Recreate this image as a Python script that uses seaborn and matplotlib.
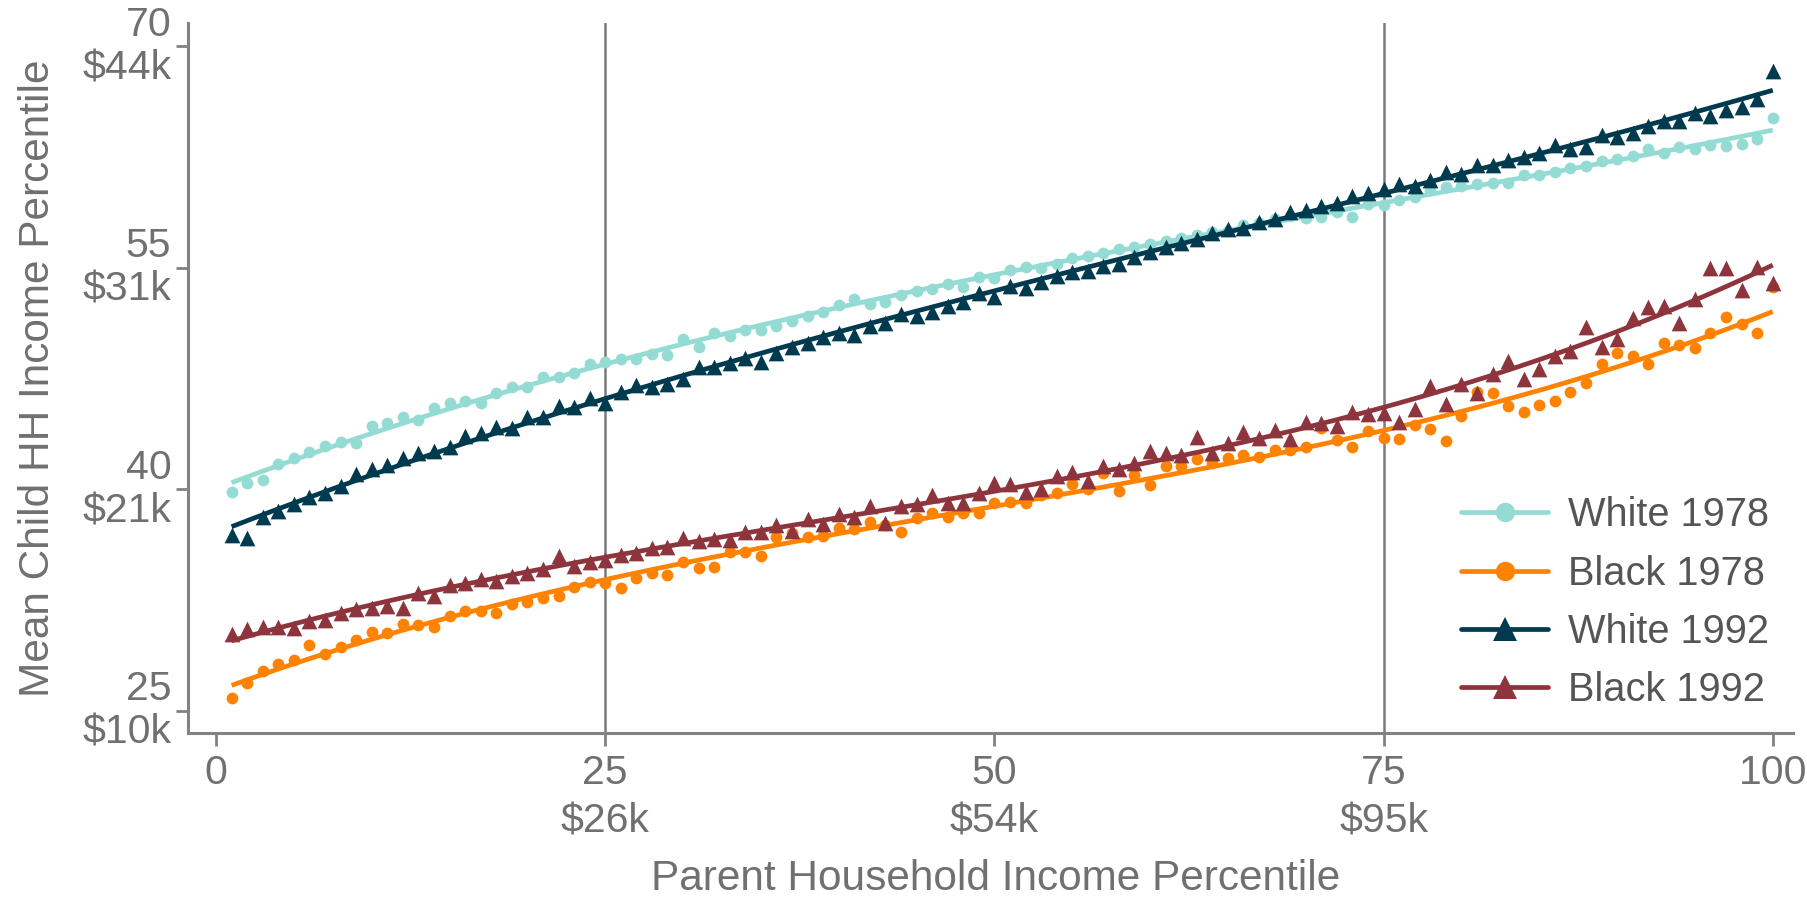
import numpy as np
import pandas as pd
import matplotlib
matplotlib.use("Agg")
import matplotlib.pyplot as plt
from matplotlib.lines import Line2D
import seaborn as sns

# Parent income percentile (x) and mean child household income percentile (y)
pctile = list(range(1, 101))

white_1978 = [
    39.85, 40.42, 40.60, 41.70, 42.10, 42.56, 42.94, 43.23, 43.17, 44.30,
    44.52, 44.88, 44.70, 45.49, 45.88, 45.99, 45.83, 46.50, 46.90, 46.96,
    47.60, 47.63, 47.90, 48.49, 48.65, 48.81, 48.81, 49.17, 49.10, 50.16,
    49.67, 50.57, 50.39, 50.80, 50.80, 51.07, 51.43, 51.74, 52.04, 52.49,
    52.87, 52.56, 52.71, 53.17, 53.46, 53.55, 53.89, 53.73, 54.40, 54.30,
    54.84, 55.04, 55.00, 55.26, 55.65, 55.80, 56.03, 56.26, 56.40, 56.60,
    56.84, 57.00, 57.20, 57.40, 57.50, 57.90, 58.06, 58.30, 58.50, 58.36,
    58.47, 58.80, 58.47, 59.33, 59.26, 59.60, 59.78, 60.27, 60.46, 60.55,
    60.68, 60.77, 60.77, 61.29, 61.29, 61.48, 61.74, 61.90, 62.26, 62.35,
    62.58, 63.03, 62.76, 63.20, 63.03, 63.32, 63.26, 63.37, 63.70, 65.17,
]

black_1978 = [
    25.90, 26.88, 27.73, 28.16, 28.45, 29.47, 28.86, 29.31, 29.81, 30.33,
    30.26, 30.89, 30.82, 30.71, 31.39, 31.79, 31.76, 31.61, 32.24, 32.40,
    32.63, 32.79, 33.37, 33.75, 33.69, 33.31, 33.98, 34.36, 34.21, 35.11,
    34.66, 34.77, 35.79, 35.79, 35.49, 36.80, 37.03, 36.76, 36.85, 37.37,
    37.30, 37.82, 37.60, 37.14, 38.05, 38.43, 38.16, 38.38, 38.43, 39.06,
    39.17, 39.06, 39.62, 39.74, 40.37, 40.01, 41.09, 39.92, 40.98, 40.30,
    41.59, 41.59, 42.04, 41.77, 42.11, 42.33, 42.18, 42.67, 42.64, 42.90,
    44.14, 43.35, 42.90, 43.98, 43.46, 43.39, 44.36, 44.07, 43.30, 44.97,
    46.62, 46.55, 45.65, 45.26, 45.72, 46.01, 46.62, 47.19, 48.49, 49.22,
    49.04, 48.49, 49.89, 49.78, 49.55, 50.61, 51.70, 51.20, 50.57, 53.69,
]

white_1992 = [
    36.92, 36.69, 38.11, 38.50, 39.01, 39.51, 39.78, 40.23, 41.05, 41.36,
    41.66, 42.10, 42.45, 42.62, 42.85, 43.62, 43.83, 44.25, 44.14, 44.88,
    44.88, 45.65, 45.56, 46.17, 45.87, 46.62, 47.07, 46.96, 47.14, 47.46,
    48.31, 48.27, 48.54, 48.88, 48.65, 49.26, 49.67, 49.89, 50.30, 50.57,
    50.46, 51.07, 51.29, 51.88, 51.74, 52.04, 52.42, 52.71, 53.28, 53.05,
    53.76, 53.62, 54.07, 54.45, 54.74, 54.81, 55.13, 55.26, 55.76, 56.10,
    56.44, 56.66, 56.94, 57.34, 57.61, 57.68, 58.13, 58.29, 58.81, 58.92,
    59.19, 59.42, 59.87, 60.05, 60.32, 60.68, 60.55, 60.95, 61.51, 61.36,
    61.97, 61.97, 62.31, 62.53, 62.80, 63.32, 63.03, 63.20, 64.00, 63.84,
    64.15, 64.61, 64.97, 64.97, 65.47, 65.28, 65.69, 65.92, 66.42, 68.35,
]

black_1992 = [
    30.19, 30.53, 30.71, 30.71, 30.60, 31.11, 31.16, 31.66, 31.88, 31.95,
    32.11, 31.95, 32.97, 32.79, 33.53, 33.65, 33.92, 33.82, 34.14, 34.36,
    34.59, 35.49, 34.82, 35.11, 35.22, 35.56, 35.72, 36.02, 36.12, 36.69,
    36.53, 36.62, 36.58, 37.10, 37.14, 37.59, 37.21, 37.98, 37.66, 38.34,
    38.11, 38.88, 37.75, 38.88, 39.01, 39.62, 39.06, 39.06, 39.78, 40.42,
    40.33, 39.85, 40.01, 40.91, 41.20, 40.59, 41.59, 41.36, 41.81, 42.62,
    42.45, 42.33, 43.53, 42.49, 43.12, 43.91, 43.46, 44.03, 43.42, 44.59,
    44.48, 44.30, 45.26, 45.11, 45.16, 44.59, 45.43, 47.00, 45.79, 47.14,
    46.55, 47.82, 48.72, 47.46, 48.13, 49.02, 49.39, 50.98, 49.67, 50.17,
    51.59, 52.33, 52.42, 51.29, 52.87, 54.97, 54.97, 53.50, 55.08, 54.00,
]

series_labels = ["White 1978", "Black 1978", "White 1992", "Black 1992"]
series_values = [white_1978, black_1978, white_1992, black_1992]
series_colors = ["#94DCD3", "#FF8200", "#003A4F", "#8E343D"]
series_markers = ["o", "o", "^", "^"]

x_ticks = [0, 25, 50, 75, 100]
x_tick_labels = ["0", "25\n\\$26k", "50\n\\$54k", "75\n\\$95k", "100"]
y_ticks = [25, 40, 55, 70]
y_tick_labels = ["25\n\\$10k", "40\n\\$21k", "55\n\\$31k", "70\n\\$44k"]
cutoffs = [25, 75]

df = pd.concat(
    [pd.DataFrame({"pctile": pctile, "value": vals, "group": lab})
     for lab, vals in zip(series_labels, series_values)],
    ignore_index=True,
)

sns.set_theme(style="ticks")
plt.rcParams["font.family"] = ["Liberation Sans", "DejaVu Sans"]

text_grey = "#707070"
axis_grey = "#828282"

fig = plt.figure(figsize=(18.08, 8.98), dpi=100)
ax = fig.add_axes([188 / 1808, 1 - 733 / 898, (1793 - 188) / 1808, (733 - 23) / 898])

for cx in cutoffs:
    ax.axvline(cx, color="#7a7a7a", lw=1.8, zorder=0)

marker_sizes = {"o": 72, "^": 128}
for i, (lab, col, mk) in enumerate(zip(series_labels, series_colors, series_markers)):
    sub = df[df["group"] == lab]
    sns.regplot(
        data=sub, x="pctile", y="value", order=3, ci=None, ax=ax,
        color=col, marker=mk,
        scatter_kws=dict(s=marker_sizes[mk], alpha=1, linewidths=0, zorder=2 + i),
        line_kws=dict(lw=3.4, zorder=2 + i, solid_capstyle="butt"),
    )

ax.set_xlim(-1.8, 101.3)
ax.set_ylim(23.5, 71.58)

ax.set_xticks(x_ticks, labels=x_tick_labels)
ax.set_yticks(y_ticks, labels=y_tick_labels)
for t in ax.get_xticklabels():
    t.set_linespacing(1.34)
for t in ax.get_yticklabels():
    t.set_verticalalignment("center")
    t.set_linespacing(1.18)

ax.tick_params(axis="both", length=9, width=2, color=axis_grey,
               labelcolor=text_grey, labelsize=29.5)
ax.tick_params(axis="x", pad=6)
ax.tick_params(axis="y", pad=3)

for side in ["top", "right"]:
    ax.spines[side].set_visible(False)
for side in ["left", "bottom"]:
    ax.spines[side].set_color(axis_grey)
    ax.spines[side].set_linewidth(2.2)

ax.set_xlabel("Parent Household Income Percentile", fontsize=30.5, color=text_grey)
ax.set_ylabel("Mean Child HH Income Percentile", fontsize=30.5, color=text_grey)
ax.xaxis.set_label_coords(0.503, -0.178)
ax.yaxis.set_label_coords(-0.081, 0.5)

handles = [
    Line2D([0], [0], color=c, lw=3.4, marker=m,
           markersize=14 if m == "o" else 17, markeredgewidth=0)
    for c, m in zip(series_colors, series_markers)
]
ax.legend(handles, series_labels, loc="lower right", bbox_to_anchor=(1.0, 0.0),
          frameon=False, fontsize=28.6, handlelength=2.2, labelspacing=0.51,
          handletextpad=0.5, labelcolor="#555555", borderaxespad=0.2)

fig.savefig("out.png", dpi=100, facecolor="white")
